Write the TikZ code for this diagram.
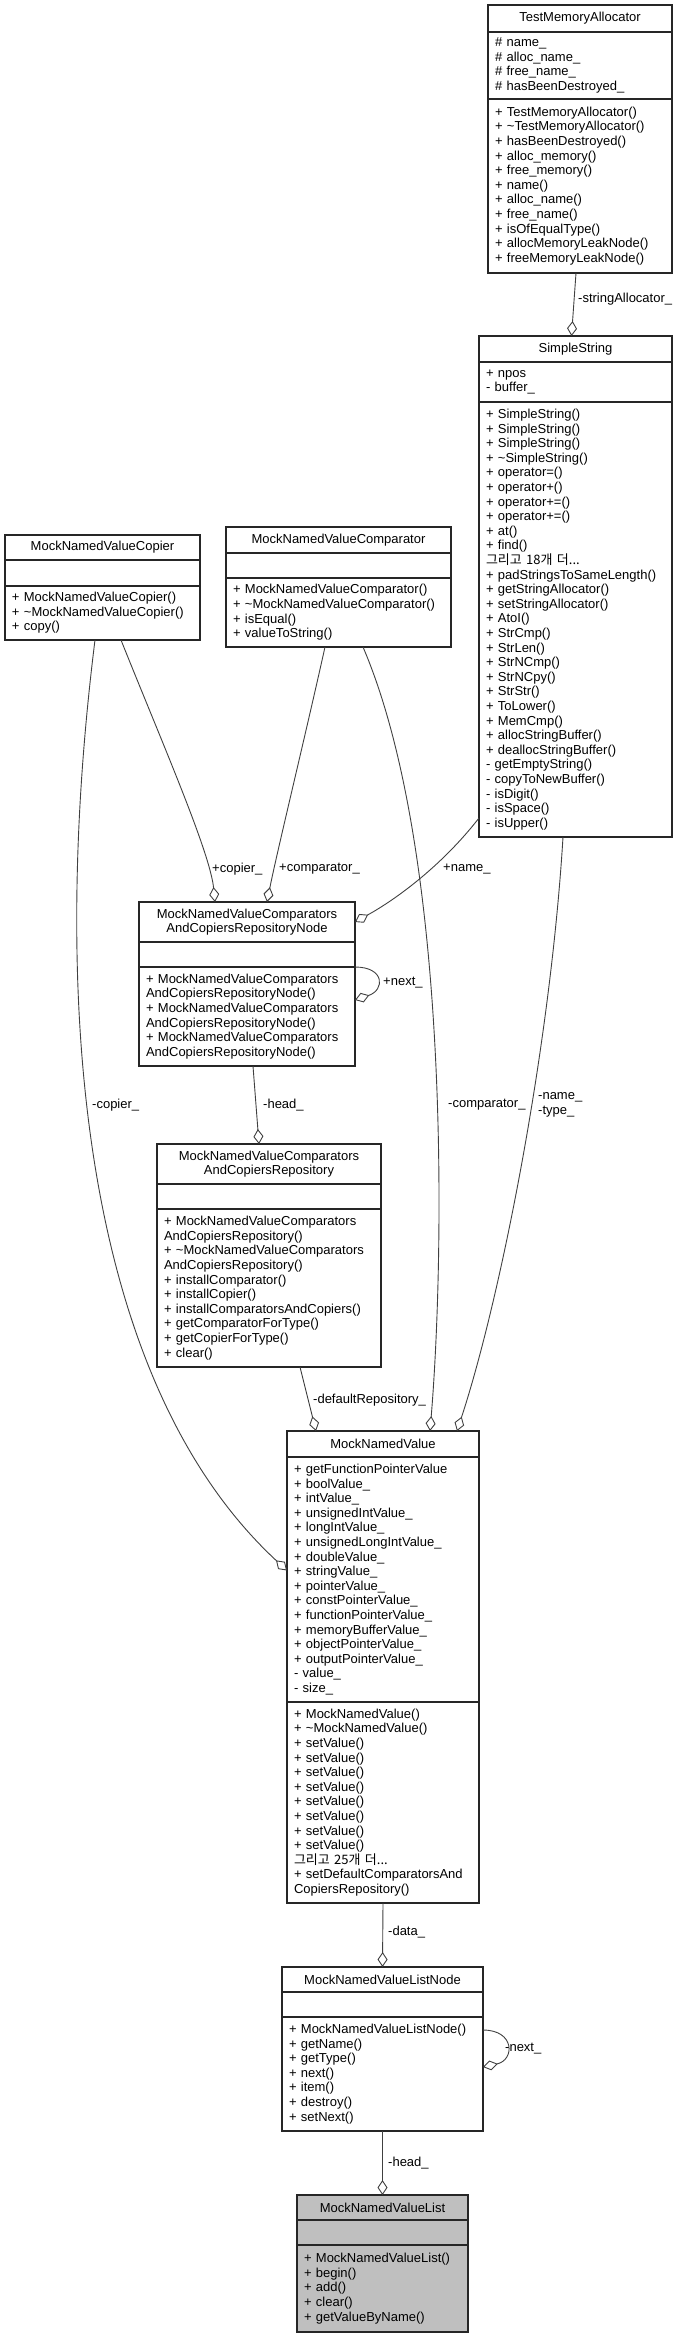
\documentclass[tikz,border=0pt]{standalone}
\usepackage{fontspec}
\setmainfont{Liberation Sans}
\newfontfamily\krfont{Noto Sans CJK KR}
\usetikzlibrary{positioning,arrows.meta}
\begin{document}
\begin{tikzpicture}[x=1pt,y=-1pt,
  font=\fontsize{13pt}{14.6pt}\selectfont,
  classhead/.style 2 args={draw=black!85, line width=1.2pt, outer sep=0pt, inner xsep=7pt, inner ysep=0pt, minimum width=#1, text width=#2, align=center},
  classpart/.style 2 args={draw=black!85, line width=1.2pt, outer sep=0pt, inner xsep=7pt, inner ysep=0pt, minimum width=#1, text width=#2, align=left},
  agg/.style={draw=black!75, line width=0.9pt, -{Diamond[open,length=15pt,width=10pt]}},
  lbl/.style={anchor=west, inner sep=0pt, align=left}]
\useasboundingbox (0,0) rectangle (680,2336);
\node[classhead={184pt}{170pt}, minimum height=27pt, anchor=north west] (tma) at (488,5) {TestMemoryAllocator};
\node[classpart={184pt}{170pt}, minimum height=67pt, below=0pt of tma] (tma-a) {\#~name\_\\\#~alloc\_name\_\\\#~free\_name\_\\\#~hasBeenDestroyed\_};
\node[classpart={184pt}{170pt}, minimum height=174pt, below=0pt of tma-a] (tma-m) {+~TestMemoryAllocator()\\+~\textasciitilde TestMemoryAllocator()\\+~hasBeenDestroyed()\\+~alloc\_memory()\\+~free\_memory()\\+~name()\\+~alloc\_name()\\+~free\_name()\\+~isOfEqualType()\\+~allocMemoryLeakNode()\\+~freeMemoryLeakNode()};
\node[classhead={193pt}{179pt}, minimum height=26pt, anchor=north west] (ss) at (479,336) {SimpleString};
\node[classpart={193pt}{179pt}, minimum height=40pt, below=0pt of ss] (ss-a) {+~npos\\-~buffer\_};
\node[classpart={193pt}{179pt}, minimum height=435pt, below=0pt of ss-a] (ss-m) {+~SimpleString()\\+~SimpleString()\\+~SimpleString()\\+~\textasciitilde SimpleString()\\+~operator=()\\+~operator+()\\+~operator+=()\\+~operator+=()\\+~at()\\+~find()\\{\krfont 그리고 18개 더...}\\+~padStringsToSameLength()\\+~getStringAllocator()\\+~setStringAllocator()\\+~AtoI()\\+~StrCmp()\\+~StrLen()\\+~StrNCmp()\\+~StrNCpy()\\+~StrStr()\\+~ToLower()\\+~MemCmp()\\+~allocStringBuffer()\\+~deallocStringBuffer()\\-~getEmptyString()\\-~copyToNewBuffer()\\-~isDigit()\\-~isSpace()\\-~isUpper()};
\node[classhead={195pt}{181pt}, minimum height=25pt, anchor=north west] (copier) at (5,535) {MockNamedValueCopier};
\node[classpart={195pt}{181pt}, minimum height=26pt, below=0pt of copier] (copier-a) {};
\node[classpart={195pt}{181pt}, minimum height=54pt, below=0pt of copier-a] (copier-m) {+~MockNamedValueCopier()\\+~\textasciitilde MockNamedValueCopier()\\+~copy()};
\node[classhead={225pt}{211pt}, minimum height=26pt, anchor=north west] (cmp) at (226,527) {MockNamedValueComparator};
\node[classpart={225pt}{211pt}, minimum height=25pt, below=0pt of cmp] (cmp-a) {};
\node[classpart={225pt}{211pt}, minimum height=69pt, below=0pt of cmp-a] (cmp-m) {+~MockNamedValueComparator()\\+~\textasciitilde MockNamedValueComparator()\\+~isEqual()\\+~valueToString()};
\node[classhead={216pt}{202pt}, minimum height=40pt, anchor=north west] (rnode) at (139,902) {MockNamedValueComparators\\AndCopiersRepositoryNode};
\node[classpart={216pt}{202pt}, minimum height=25pt, below=0pt of rnode] (rnode-a) {};
\node[classpart={216pt}{202pt}, minimum height=99pt, below=0pt of rnode-a] (rnode-m) {+~MockNamedValueComparators\\AndCopiersRepositoryNode()\\+~MockNamedValueComparators\\AndCopiersRepositoryNode()\\+~MockNamedValueComparators\\AndCopiersRepositoryNode()};
\node[classhead={224pt}{210pt}, minimum height=40pt, anchor=north west] (repo) at (157,1144) {MockNamedValueComparators\\AndCopiersRepository};
\node[classpart={224pt}{210pt}, minimum height=25pt, below=0pt of repo] (repo-a) {};
\node[classpart={224pt}{210pt}, minimum height=158pt, below=0pt of repo-a] (repo-m) {+~MockNamedValueComparators\\AndCopiersRepository()\\+~\textasciitilde MockNamedValueComparators\\AndCopiersRepository()\\+~installComparator()\\+~installCopier()\\+~installComparatorsAndCopiers()\\+~getComparatorForType()\\+~getCopierForType()\\+~clear()};
\node[classhead={192pt}{178pt}, minimum height=26pt, anchor=north west] (mnv) at (287,1431) {MockNamedValue};
\node[classpart={192pt}{178pt}, minimum height=245pt, below=0pt of mnv] (mnv-a) {+~getFunctionPointerValue\\+~boolValue\_\\+~intValue\_\\+~unsignedIntValue\_\\+~longIntValue\_\\+~unsignedLongIntValue\_\\+~doubleValue\_\\+~stringValue\_\\+~pointerValue\_\\+~constPointerValue\_\\+~functionPointerValue\_\\+~memoryBufferValue\_\\+~objectPointerValue\_\\+~outputPointerValue\_\\-~value\_\\-~size\_};
\node[classpart={192pt}{178pt}, minimum height=201pt, below=0pt of mnv-a] (mnv-m) {+~MockNamedValue()\\+~\textasciitilde MockNamedValue()\\+~setValue()\\+~setValue()\\+~setValue()\\+~setValue()\\+~setValue()\\+~setValue()\\+~setValue()\\+~setValue()\\{\krfont 그리고 25개 더...}\\+~setDefaultComparatorsAnd\\CopiersRepository()};
\node[classhead={201pt}{187pt}, minimum height=25pt, anchor=north west] (lnode) at (282,1967) {MockNamedValueListNode};
\node[classpart={201pt}{187pt}, minimum height=25pt, below=0pt of lnode] (lnode-a) {};
\node[classpart={201pt}{187pt}, minimum height=114pt, below=0pt of lnode-a] (lnode-m) {+~MockNamedValueListNode()\\+~getName()\\+~getType()\\+~next()\\+~item()\\+~destroy()\\+~setNext()};
\node[classhead={171pt}{157pt}, fill=gray!50, minimum height=25pt, anchor=north west] (list) at (297,2195) {MockNamedValueList};
\node[classpart={171pt}{157pt}, fill=gray!50, minimum height=25pt, below=0pt of list] (list-a) {};
\node[classpart={171pt}{157pt}, fill=gray!50, minimum height=87pt, below=0pt of list-a] (list-m) {+~MockNamedValueList()\\+~begin()\\+~add()\\+~clear()\\+~getValueByName()};
\draw[agg] ([xshift=-4pt]tma-m.south) -- ([xshift=-4pt]ss.north);
\draw[agg] ([yshift=19pt]ss-m.south west) .. controls +(-35,45) and +(45,-25) .. (rnode.east);
\draw[agg] ([xshift=18.5pt]copier-m.south) .. controls +(40,100) and +(-5,-50) .. ([xshift=-32pt]rnode.north);
\draw[agg] ([xshift=-13.5pt]cmp-m.south) .. controls +(-20,90) and +(10,-50) .. ([xshift=20pt]rnode.north);
\draw[agg] ([xshift=24.5pt]cmp-m.south) .. controls +(87,203) and +(15,-181) .. ([xshift=47pt]mnv.north);
\draw[agg] ([xshift=-12.5pt]ss-m.south) .. controls +(-13,213) and +(43,-131) .. ([xshift=74pt]mnv.north);
\draw[agg] ([xshift=6pt]rnode-m.south) -- ([xshift=-10pt]repo.north);
\draw[agg] (rnode-m.north east) .. controls +(30,0) and +(30,-10) .. ([yshift=-33pt]rnode-m.north east);
\draw[agg] ([xshift=31pt]repo-m.south) -- ([xshift=-67pt]mnv.north);
\draw[agg] ([xshift=-7.5pt]copier-m.south) .. controls +(-45,360) and +(-207,-192) .. ([yshift=9pt]mnv-a.west);
\draw[agg] (mnv-m.south) -- (lnode.north);
\draw[agg] ([yshift=-13pt]lnode-m.north east) .. controls +(32,0) and +(32,-7) .. ([yshift=-50pt]lnode-m.north east);
\draw[agg] (lnode-m.south) -- (list.north);
\node[lbl] (l-stralloc) at (578,299) {-stringAllocator\_};
\node[lbl] (l-copier) at (212,869) {+copier\_};
\node[lbl] (l-comparator) at (279,869) {+comparator\_};
\node[lbl] (l-name) at (443,869) {+name\_};
\node[lbl] (l-rnext) at (383,983) {+next\_};
\node[lbl] (l-copier2) at (92,1105) {-copier\_};
\node[lbl] (l-rhead) at (263,1105) {-head\_};
\node[lbl] (l-comparator2) at (448,1105) {-comparator\_};
\node[lbl] (l-nametype) at (538,1105) {-name\_\\-type\_};
\node[lbl] (l-defrepo) at (313,1400) {-defaultRepository\_};
\node[lbl] (l-data) at (388,1932) {-data\_};
\node[lbl] (l-lnext) at (505,2049) {-next\_};
\node[lbl] (l-lhead) at (388,2163) {-head\_};
\end{tikzpicture}
\end{document}
